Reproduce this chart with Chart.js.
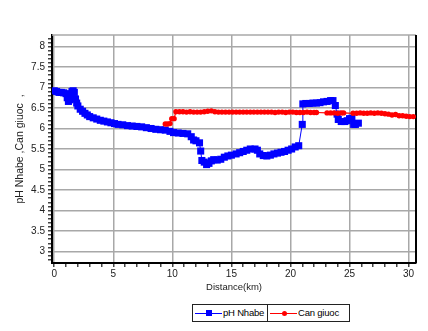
<!DOCTYPE html>
<html>
<head>
<meta charset="utf-8">
<script src="https://cdn.jsdelivr.net/npm/chart.js@4.4.1/dist/chart.umd.min.js"></script>
<style>
  html, body { margin: 0; padding: 0; background: #fff; }
  #wrap { position: relative; width: 428px; height: 331px; }
  #legend {
    position: absolute; left: 192px; top: 304px; width: 156px; height: 16px;
    border: 1px solid #222; display: flex; font-family: "Liberation Sans", Arial, sans-serif;
    font-size: 9.5px; color: #000; background: #fff;
  }
  .item { position: relative; height: 16px; }
  .item + .item { border-left: 1px solid #222; }
  .ln { position: absolute; left: 2px; top: 8px; width: 27px; height: 1px; }
  .mk { position: absolute; }
  .lbl { position: absolute; left: 30px; top: 2px; white-space: nowrap; letter-spacing: -0.2px; }
</style>
</head>
<body>
<div id="wrap">
  <canvas id="chart" width="428" height="331"></canvas>
  <div id="legend">
    <div class="item" style="width:74px">
      <div class="ln" style="background:#0000ff"></div>
      <div class="mk" style="left:13px;top:5px;width:6px;height:6px;background:#0000ff"></div>
      <div class="lbl">pH Nhabe</div>
    </div>
    <div class="item" style="width:81px">
      <div class="ln" style="background:#ff0000"></div>
      <div class="mk" style="left:14px;top:6px;width:5px;height:5px;border-radius:50%;background:#ff0000"></div>
      <div class="lbl">Can giuoc</div>
    </div>
  </div>
</div>
<script>
// --- datos ---
const seriesNames = ['pH Nhabe', 'Can giuoc'];

const nhabeKm = [0.0,0.2,0.4,0.6,0.8,1.0,1.1,1.2,1.3,1.4,1.5,1.6,1.7,1.8,1.9,2.0,2.2,2.4,2.6,2.8,
  3.0,3.3,3.6,3.9,4.2,4.5,4.8,5.1,5.4,5.8,6.2,6.6,7.0,7.4,7.8,8.2,8.6,9.0,9.4,9.8,
  10.1,10.5,10.9,11.3,11.6,11.8,12.0,12.3,12.4,12.5,12.7,12.9,13.1,13.3,13.5,13.8,14.1,14.4,14.7,15.0,
  15.4,15.7,16.0,16.3,16.6,17.0,17.2,17.4,17.7,18.0,18.3,18.6,18.9,19.2,19.5,19.8,20.1,20.4,20.7,21.0,
  21.05,21.3,21.6,21.9,22.2,22.5,22.8,23.1,23.4,23.6,23.8,23.95,24.05,24.3,24.6,24.8,25.0,25.2,25.35,25.5,25.75];
const nhabePH = [6.92,6.90,6.88,6.88,6.87,6.85,6.75,6.66,6.70,6.82,6.90,6.92,6.88,6.72,6.62,6.55,6.47,6.42,6.37,6.33,
  6.29,6.26,6.23,6.20,6.18,6.16,6.14,6.12,6.10,6.09,6.07,6.06,6.05,6.04,6.02,6.00,5.98,5.97,5.96,5.93,
  5.90,5.89,5.88,5.87,5.80,5.72,5.70,5.65,5.45,5.22,5.18,5.12,5.15,5.21,5.24,5.23,5.25,5.30,5.33,5.35,
  5.38,5.41,5.44,5.47,5.50,5.50,5.47,5.38,5.34,5.33,5.35,5.38,5.40,5.42,5.44,5.47,5.50,5.55,5.58,6.10,
  6.60,6.61,6.61,6.62,6.62,6.63,6.65,6.66,6.68,6.68,6.56,6.35,6.22,6.17,6.17,6.19,6.24,6.25,6.10,6.10,6.13];

const canGiuocKm = [9.4,9.6,9.8,9.95,10.15,10.3,10.6,10.9,11.2,11.5,11.8,12.1,12.4,12.7,13.0,13.3,13.6,13.9,14.2,14.5,
  14.8,15.1,15.4,15.7,16.0,16.3,16.6,16.9,17.2,17.5,17.8,18.1,18.4,18.7,19.0,19.3,19.6,19.9,20.2,20.5,
  20.8,21.1,21.4,21.7,22.0,22.2,23.1,23.4,23.7,24.0,24.3,24.5,25.3,25.6,25.9,26.2,26.5,26.8,27.1,27.4,
  27.7,28.0,28.3,28.6,28.9,29.2,29.5,29.8,30.1,30.4];
const canGiuocPH = [6.11,6.11,6.12,6.24,6.24,6.41,6.41,6.41,6.40,6.41,6.40,6.40,6.40,6.41,6.42,6.43,6.41,6.40,6.40,6.40,
  6.40,6.40,6.40,6.40,6.40,6.40,6.40,6.40,6.40,6.40,6.40,6.40,6.40,6.39,6.40,6.40,6.39,6.40,6.40,6.39,
  6.39,6.39,6.40,6.39,6.39,6.39,6.38,6.38,6.38,6.37,6.38,6.38,6.37,6.37,6.38,6.37,6.37,6.38,6.37,6.38,
  6.37,6.36,6.35,6.33,6.34,6.31,6.31,6.30,6.29,6.29];

const xMajor = [0, 5, 10, 15, 20, 25, 30];
const yMajor = [3, 3.5, 4, 4.5, 5, 5.5, 6, 6.5, 7, 7.5, 8];

const xTitle = 'Distance(km)';
const yTitle = 'pH Nhabe ,Can giuoc  ,';

function toPoints(xs, ys) {
  return xs.map((x, i) => ({ x: x, y: ys[i] }));
}
function isMajor(list, v) {
  return list.some(m => Math.abs(m - v) < 1e-6);
}

// marco superior y derecho
const framePlugin = {
  id: 'frame',
  beforeDatasetsDraw(chart) {
    const a = chart.chartArea, c = chart.ctx;
    c.save();
    c.strokeStyle = '#a8a8a8'; c.lineWidth = 1.5;
    c.beginPath(); c.moveTo(a.left, a.top); c.lineTo(a.right, a.top); c.stroke();
    c.strokeStyle = '#000'; c.lineWidth = 2;
    c.beginPath(); c.moveTo(a.right, a.top); c.lineTo(a.right, a.bottom); c.stroke();
    c.restore();
  }
};

const tickFont = { family: '"Liberation Sans", Arial, sans-serif', size: 10 };
const titleFont = { family: '"Liberation Sans", Arial, sans-serif', size: 9.5 };

new Chart(document.getElementById('chart'), {
  type: 'line',
  data: {
    datasets: [
      { label: seriesNames[0], data: toPoints(nhabeKm, nhabePH), order: 1,
        borderColor: '#0000ff', backgroundColor: '#0000ff', borderWidth: 1,
        pointStyle: 'rect', pointRadius: 5, pointBorderWidth: 0 },
      { label: seriesNames[1], data: toPoints(canGiuocKm, canGiuocPH), order: 0,
        borderColor: '#ff0000', backgroundColor: '#ff0000', borderWidth: 1.2,
        pointStyle: 'circle', pointRadius: 2.7, pointBorderWidth: 0 }
    ]
  },
  options: {
    responsive: false, animation: false,
    layout: { padding: { left: 0, right: 12, top: 35, bottom: 38 } },
    plugins: { legend: { display: false }, tooltip: { enabled: false } },
    scales: {
      x: {
        type: 'linear', min: -0.19, max: 30.63,
        afterBuildTicks: s => { const t = []; for (let i = 0; i <= 30; i++) t.push({ value: i }); s.ticks = t; },
        afterFit: s => { s.height = 30; },
        border: { color: '#000', width: 2 },
        grid: { color: c => isMajor(xMajor, c.tick.value) ? '#a8a8a8' : 'rgba(0,0,0,0)', lineWidth: 1.5,
          tickColor: '#444', tickLength: 4, drawOnChartArea: true },
        ticks: { autoSkip: false, maxRotation: 0, padding: 1, color: '#222', font: tickFont,
          callback: v => isMajor(xMajor, v) ? String(v) : '' },
        title: { display: true, text: xTitle, color: '#222', font: titleFont, padding: { top: 0, bottom: 0 } }
      },
      y: {
        min: 2.72, max: 8.28,
        afterBuildTicks: s => { const t = []; for (let i = 28; i <= 82; i++) t.push({ value: i / 10 }); s.ticks = t; },
        afterFit: s => { s.width = 52; },
        border: { color: '#000', width: 2 },
        grid: { color: c => isMajor(yMajor, c.tick.value) ? '#a8a8a8' : 'rgba(0,0,0,0)', lineWidth: 1.5,
          tickColor: '#444', tickLength: 4 },
        ticks: { autoSkip: false, padding: 3, color: '#222', font: tickFont,
          callback: v => isMajor(yMajor, v) ? String(Math.round(v * 10) / 10) : '' },
        title: { display: true, text: yTitle, color: '#222', font: { family: titleFont.family, size: 10.5 },
          padding: { top: 14, bottom: 0 } }
      }
    }
  },
  plugins: [framePlugin]
});
</script>
</body>
</html>
